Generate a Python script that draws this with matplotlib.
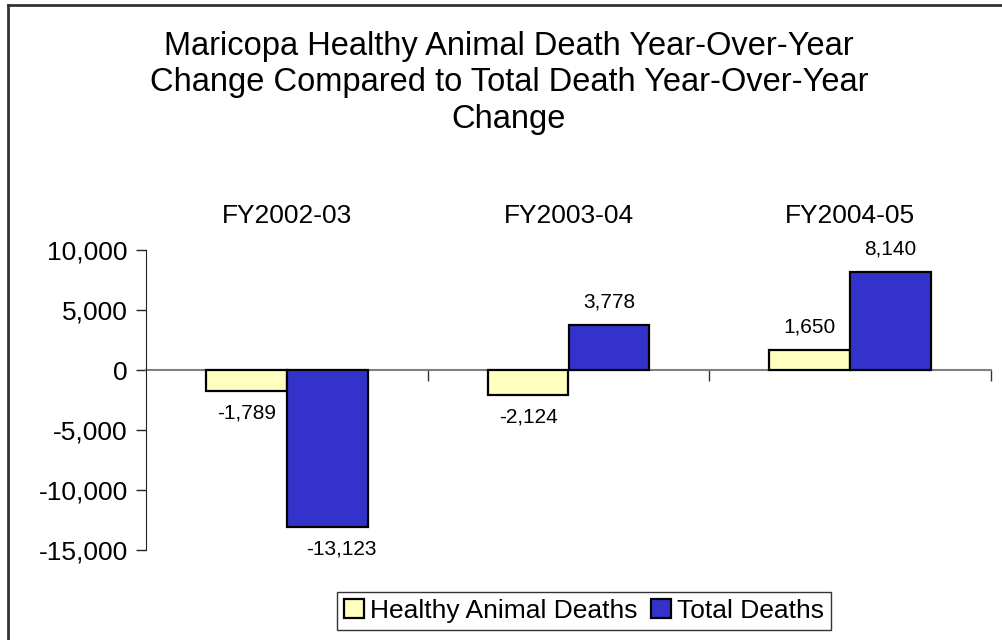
import matplotlib
matplotlib.use("Agg")
import matplotlib.pyplot as plt
from matplotlib.lines import Line2D
from matplotlib.ticker import FuncFormatter, FixedLocator
import numpy as np

years = ["FY2002-03", "FY2003-04", "FY2004-05"]
healthy_deaths = [-1789, -2124, 1650]
total_deaths = [-13123, 3778, 8140]

plt.rcParams['font.family'] = ['Liberation Sans', 'DejaVu Sans']

fig = plt.figure(figsize=(10.02, 6.40), dpi=100)
ax = fig.add_axes([146 / 1002, 1 - 550 / 640, 845 / 1002, 300 / 640])

x = np.arange(len(years))
w = 0.2875
b1 = ax.bar(x - w / 2, healthy_deaths, w, color='#FFFFC0', edgecolor='black',
            linewidth=1.6, label='Healthy Animal Deaths', zorder=3)
b2 = ax.bar(x + w / 2, total_deaths, w, color='#3333CC', edgecolor='black',
            linewidth=1.6, label='Total Deaths', zorder=3)

# value labels outside the bar ends
for bars, vals in [(b1, healthy_deaths), (b2, total_deaths)]:
    for bar, v in zip(bars, vals):
        cx = bar.get_x() + bar.get_width() / 2
        dx = 14 if v < -10000 else 0
        ax.annotate(f"{v:,}", (cx, v), xytext=(dx, 23 if v > 0 else -22),
                    textcoords='offset pixels',
                    ha='center', va='center', fontsize=15)

ax.set_xlim(-0.5, 2.5)
ax.set_ylim(-15000, 10000)
ax.yaxis.set_major_locator(FixedLocator([-15000, -10000, -5000, 0, 5000, 10000]))
ax.yaxis.set_major_formatter(FuncFormatter(lambda v, p: f"{int(v):,}"))
ax.tick_params(axis='y', labelsize=19, length=7, width=1, color='#222222', pad=6)

# zero line doubles as the category axis
ax.spines['top'].set_visible(False)
ax.spines['right'].set_visible(False)
ax.spines['left'].set_color('#222222')
ax.spines['bottom'].set_position(('data', 0))
ax.spines['bottom'].set_color('#808080')
ax.spines['bottom'].set_linewidth(1.5)
ax.spines['bottom'].set_zorder(2)
ax.set_xticks([0.5, 1.5, 2.5])
ax.set_xticklabels([])
ax.tick_params(axis='x', length=8, width=1, color='#333333', direction='out')

for i, name in enumerate(years):
    ax.text(i, 1.113, name, transform=ax.get_xaxis_transform(),
            ha='center', va='center', fontsize=19)

fig.text(509 / 1002, 1 - 83 / 640,
         "Maricopa Healthy Animal Death Year-Over-Year\n"
         "Change Compared to Total Death Year-Over-Year\nChange",
         ha='center', va='center', fontsize=23.5, linespacing=1.22)

leg = fig.legend(loc='center', bbox_to_anchor=(584 / 1002, 1 - 611 / 640), ncol=2,
                 fontsize=19, frameon=True, fancybox=False, edgecolor='black',
                 handlelength=0.75, handleheight=0.75, handletextpad=0.25,
                 columnspacing=0.5, borderpad=0.25, borderaxespad=0)
leg.get_frame().set_linewidth(1)

# outer chart frame: only top and left edges fall inside the image
fx, fy = 7.5 / 1002, 1 - 5 / 640
fig.add_artist(Line2D([fx, 1], [fy, fy], transform=fig.transFigure,
                      color='#333333', linewidth=2))
fig.add_artist(Line2D([fx, fx], [0, fy], transform=fig.transFigure,
                      color='#333333', linewidth=2))

fig.savefig("out.png", dpi=100)
